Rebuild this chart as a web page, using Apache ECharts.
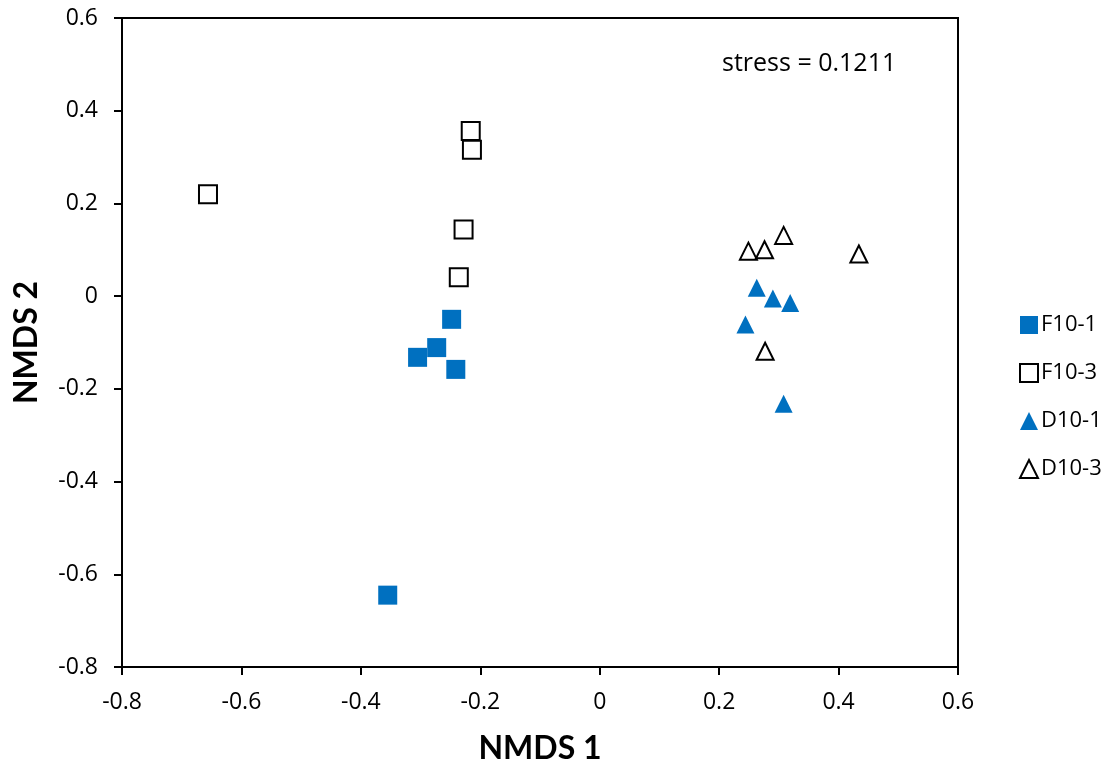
<!DOCTYPE html>
<html>
<head>
<meta charset="utf-8">
<script src="https://cdn.jsdelivr.net/npm/echarts@6/dist/echarts.min.js"></script>
<style>
  html, body { margin: 0; padding: 0; background: #fff; }
  #chart { width: 1107px; height: 766px; }
</style>
</head>
<body>
<div id="chart"></div>
<script>
// NMDS ordination coordinates [NMDS 1, NMDS 2] per sample group
const groupNames = ['F10-1', 'F10-3', 'D10-1', 'D10-3'];

const f10_1 = [[-0.248, -0.050], [-0.273, -0.111], [-0.305, -0.132], [-0.241, -0.158], [-0.355, -0.645]];
const f10_3 = [[-0.216, 0.356], [-0.214, 0.316], [-0.228, 0.144], [-0.236, 0.041], [-0.656, 0.220]];
const d10_1 = [[0.263, 0.018], [0.290, -0.005], [0.319, -0.015], [0.244, -0.061], [0.308, -0.232]];
const d10_3 = [[0.249, 0.097], [0.276, 0.100], [0.308, 0.131], [0.434, 0.091], [0.277, -0.119]];

const xRange = { min: -0.8, max: 0.6, interval: 0.2 };
const yRange = { min: -0.8, max: 0.6, interval: 0.2 };
const stressText = 'stress = 0.1211';

const BLUE = '#0070C0';
const FONT = '"Open Sans", "Noto Sans", sans-serif';
const TITLE_FONT = 'Lato, "Open Sans", sans-serif';

const chart = echarts.init(document.getElementById('chart'), null, { renderer: 'canvas' });

function axisCommon(r) {
  return {
    type: 'value',
    min: r.min, max: r.max, interval: r.interval,
    axisLine: { show: true, onZero: false, lineStyle: { color: '#000', width: 2 } },
    axisTick: { show: true, inside: false, length: 8, lineStyle: { color: '#000', width: 2 } },
    splitLine: { show: false },
    axisLabel: { color: '#000', fontFamily: FONT, fontSize: 23 }
  };
}

const xAxis = axisCommon(xRange);
Object.assign(xAxis, {
  name: 'NMDS 1', nameLocation: 'middle', nameGap: 66,
  nameTextStyle: { color: '#000', fontFamily: TITLE_FONT, fontSize: 32, fontWeight: 'bold' }
});
xAxis.axisLabel.margin = 24;

const yAxis = axisCommon(yRange);
Object.assign(yAxis, {
  name: 'NMDS 2', nameLocation: 'middle', nameGap: 79, nameRotate: 90,
  nameTextStyle: { color: '#000', fontFamily: TITLE_FONT, fontSize: 32, fontWeight: 'bold' }
});
yAxis.axisLabel.margin = 24;

function scatter(name, data, symbol, size, filled) {
  return {
    name: name,
    type: 'scatter',
    data: data,
    symbol: symbol,
    symbolSize: size,
    itemStyle: filled
      ? { color: BLUE, opacity: 1 }
      : { color: '#fff', borderColor: '#000', borderWidth: 2, opacity: 1 },
    emphasis: { disabled: true }
  };
}

chart.setOption({
  animation: false,
  backgroundColor: '#fff',
  grid: {
    left: 122, top: 18, right: 149, bottom: 99,
    outerBoundsMode: 'none',
    containLabel: false,
    show: true, borderColor: '#000', borderWidth: 2, backgroundColor: 'transparent'
  },
  xAxis: xAxis,
  yAxis: yAxis,
  legend: {
    orient: 'vertical',
    left: 1014, top: 309,
    itemWidth: 18, itemHeight: 18, itemGap: 26,
    textStyle: { color: '#000', fontFamily: FONT, fontSize: 22, padding: [0, 0, 0, -2] },
    data: groupNames.map(n => ({ name: n }))
  },
  graphic: [{
    type: 'text',
    left: 722, top: 51,
    style: { text: stressText, fill: '#000', font: '25px ' + FONT }
  }],
  series: [
    scatter(groupNames[0], f10_1, 'rect', 19, true),
    scatter(groupNames[1], f10_3, 'rect', 18, false),
    scatter(groupNames[2], d10_1, 'triangle', 18, true),
    scatter(groupNames[3], d10_3, 'triangle', 17, false)
  ]
});
</script>
</body>
</html>
